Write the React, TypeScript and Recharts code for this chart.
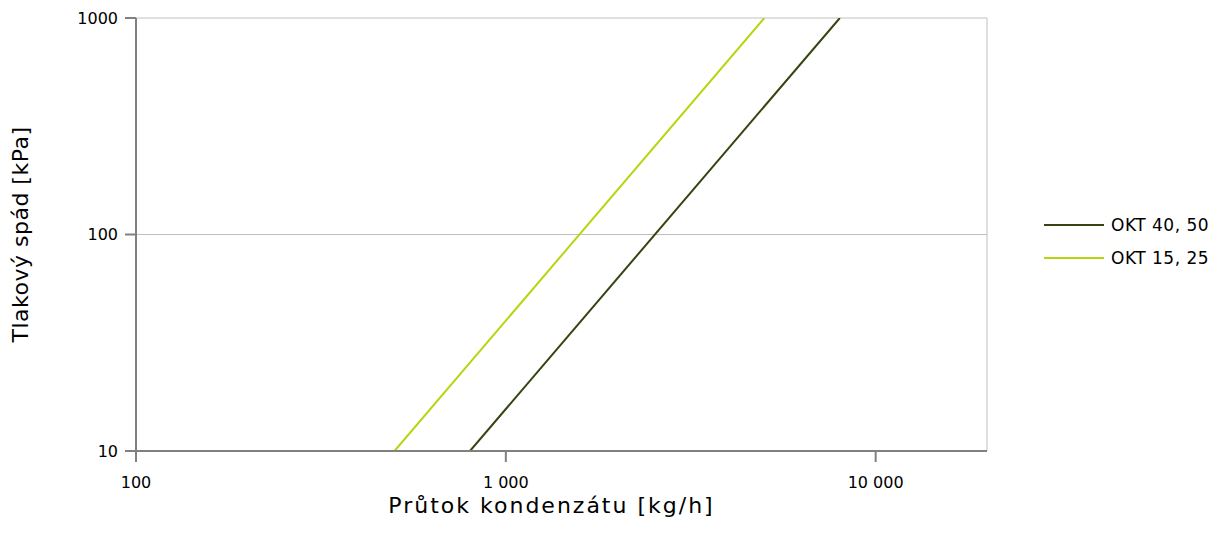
import React from "react";
import { LineChart, Line, XAxis, YAxis, CartesianGrid, ReferenceLine } from "recharts";

const darkFlow = [800, 8000];
const darkDrop = [10, 1000];
const lightFlow = [500, 5000];
const lightDrop = [10, 1000];

const xTicks = [100, 1000, 10000];
const yTicks = [10, 100, 1000];

const seriesNames = ["OKT 40, 50", "OKT 15, 25"];
const seriesColors = ["#354410", "#b9d40f"];

const darkData = darkFlow.map((f, i) => ({ flow: f, drop: darkDrop[i] }));
const lightData = lightFlow.map((f, i) => ({ flow: f, drop: lightDrop[i] }));

const FONT = "Tahoma, 'DejaVu Sans', sans-serif";

const fmt = (v: number) => String(v).replace(/\B(?=(\d{3})+(?!\d))/g, " ");

export default function App() {
    return (
        <div style={{ position: "absolute", left: 0, top: 0, width: 1219, height: 547, background: "#fff", fontFamily: FONT }}>
            <LineChart
                width={1219}
                height={547}
                margin={{ top: 18, right: 232, left: 0, bottom: 0 }}
            >
                <CartesianGrid vertical={false} stroke="#c0c0c0" strokeWidth={1} />
                <XAxis
                    dataKey="flow"
                    type="number"
                    scale="log"
                    domain={[100, 20000]}
                    ticks={xTicks}
                    allowDataOverflow
                    height={96}
                    stroke="#808080"
                    strokeWidth={2}
                    tickSize={11}
                    tickFormatter={fmt}
                    tick={{ fontSize: 16, fill: "#000", fontFamily: FONT, dy: 13 }}
                    label={{ value: "Průtok kondenzátu [kg/h]", position: "insideBottom", offset: 34, dx: -10, style: { fontSize: 22, letterSpacing: 2, fill: "#000", fontFamily: FONT } }}
                />
                <YAxis
                    dataKey="drop"
                    type="number"
                    scale="log"
                    domain={[10, 1000]}
                    ticks={yTicks}
                    allowDataOverflow
                    width={136}
                    stroke="#808080"
                    strokeWidth={2}
                    tickSize={11}
                    tick={{ fontSize: 16, fill: "#000", fontFamily: FONT, dx: -5 }}
                    label={{ value: "Tlakový spád [kPa]", angle: -90, position: "insideLeft", offset: 20, style: { fontSize: 22, letterSpacing: 0.5, fill: "#000", fontFamily: FONT, textAnchor: "middle" } }}
                />
                <ReferenceLine x={20000} stroke="#c0c0c0" strokeWidth={1} ifOverflow="visible" />
                <Line data={darkData} dataKey="drop" name={seriesNames[0]} stroke={seriesColors[0]} strokeWidth={2} dot={false} isAnimationActive={false} />
                <Line data={lightData} dataKey="drop" name={seriesNames[1]} stroke={seriesColors[1]} strokeWidth={2} dot={false} isAnimationActive={false} />
            </LineChart>
            <div style={{ position: "absolute", left: 1044, top: 208 }}>
                {seriesNames.map((n, i) => (
                    <div key={n} style={{ display: "flex", alignItems: "center", height: 33 }}>
                        <div style={{ width: 60, height: 2, background: seriesColors[i], marginRight: 7 }} />
                        <span style={{ fontSize: 17, letterSpacing: 0.5, color: "#000", fontFamily: FONT }}>{n}</span>
                    </div>
                ))}
            </div>
        </div>
    );
}
